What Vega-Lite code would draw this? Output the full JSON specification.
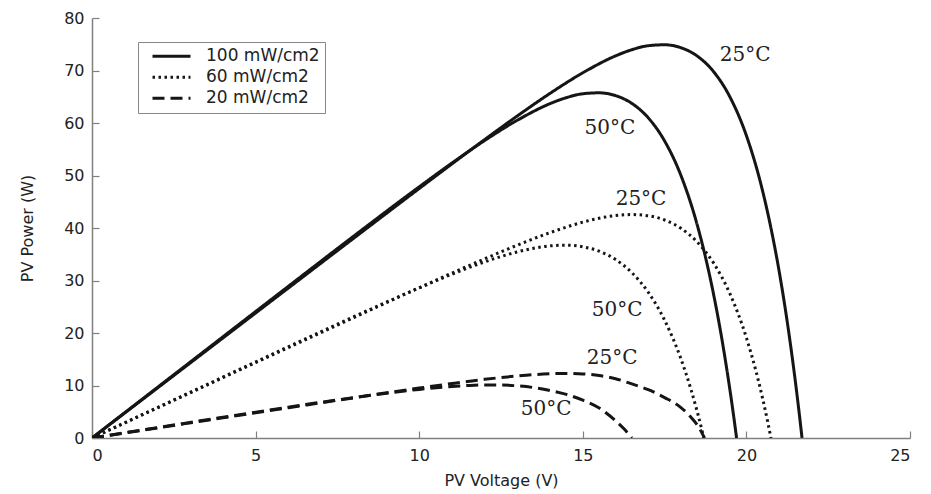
{
  "$schema": "https://vega.github.io/schema/vega-lite/v6.json",
  "autosize": {"type": "none"},
  "padding": {"left": 92, "top": 18, "right": 21, "bottom": 56},
  "width": 818,
  "height": 420,
  "background": "white",
  "config": {
    "view": {"stroke": null},
    "axis": {
      "domainColor": "#808080", "domainWidth": 1.5,
      "tickColor": "#808080", "tickWidth": 1.2, "tickSize": -7,
      "labelFont": "DejaVu Sans", "labelFontSize": 16, "labelColor": "#222222",
      "titleFont": "DejaVu Sans", "titleFontSize": 16, "titleFontWeight": "normal", "titleColor": "#222222",
      "grid": false
    }
  },
  "datasets": {
    "curves": [
      {"s":"100-25","irr":"100 mW/cm2","V":0,"P":0},{"s":"100-25","irr":"100 mW/cm2","V":2,"P":9.52},{"s":"100-25","irr":"100 mW/cm2","V":4,"P":19.04},{"s":"100-25","irr":"100 mW/cm2","V":6,"P":28.56},{"s":"100-25","irr":"100 mW/cm2","V":8,"P":38.06},{"s":"100-25","irr":"100 mW/cm2","V":10,"P":47.52},{"s":"100-25","irr":"100 mW/cm2","V":11,"P":52.21},{"s":"100-25","irr":"100 mW/cm2","V":12,"P":56.84},{"s":"100-25","irr":"100 mW/cm2","V":13,"P":61.35},{"s":"100-25","irr":"100 mW/cm2","V":14,"P":65.65},{"s":"100-25","irr":"100 mW/cm2","V":15,"P":69.56},{"s":"100-25","irr":"100 mW/cm2","V":16,"P":72.78},{"s":"100-25","irr":"100 mW/cm2","V":16.5,"P":73.96},{"s":"100-25","irr":"100 mW/cm2","V":17,"P":74.72},{"s":"100-25","irr":"100 mW/cm2","V":17.5,"P":74.9},{"s":"100-25","irr":"100 mW/cm2","V":18,"P":74.34},{"s":"100-25","irr":"100 mW/cm2","V":18.5,"P":72.74},{"s":"100-25","irr":"100 mW/cm2","V":19,"P":69.76},{"s":"100-25","irr":"100 mW/cm2","V":19.5,"P":64.92},{"s":"100-25","irr":"100 mW/cm2","V":20,"P":57.6},{"s":"100-25","irr":"100 mW/cm2","V":20.5,"P":46.94},{"s":"100-25","irr":"100 mW/cm2","V":20.75,"P":40.0},{"s":"100-25","irr":"100 mW/cm2","V":21,"P":31.79},{"s":"100-25","irr":"100 mW/cm2","V":21.15,"P":26.14},{"s":"100-25","irr":"100 mW/cm2","V":21.3,"P":19.9},{"s":"100-25","irr":"100 mW/cm2","V":21.5,"P":10.59},{"s":"100-25","irr":"100 mW/cm2","V":21.6,"P":5.47},{"s":"100-25","irr":"100 mW/cm2","V":21.7,"P":0},
      {"s":"100-50","irr":"100 mW/cm2","V":0,"P":0},{"s":"100-50","irr":"100 mW/cm2","V":2,"P":9.64},{"s":"100-50","irr":"100 mW/cm2","V":4,"P":19.27},{"s":"100-50","irr":"100 mW/cm2","V":6,"P":28.89},{"s":"100-50","irr":"100 mW/cm2","V":8,"P":38.46},{"s":"100-50","irr":"100 mW/cm2","V":10,"P":47.84},{"s":"100-50","irr":"100 mW/cm2","V":11,"P":52.37},{"s":"100-50","irr":"100 mW/cm2","V":12,"P":56.66},{"s":"100-50","irr":"100 mW/cm2","V":13,"P":60.53},{"s":"100-50","irr":"100 mW/cm2","V":14,"P":63.69},{"s":"100-50","irr":"100 mW/cm2","V":14.5,"P":64.83},{"s":"100-50","irr":"100 mW/cm2","V":15,"P":65.57},{"s":"100-50","irr":"100 mW/cm2","V":15.5,"P":65.75},{"s":"100-50","irr":"100 mW/cm2","V":16,"P":65.22},{"s":"100-50","irr":"100 mW/cm2","V":16.5,"P":63.73},{"s":"100-50","irr":"100 mW/cm2","V":17,"P":60.99},{"s":"100-50","irr":"100 mW/cm2","V":17.5,"P":56.58},{"s":"100-50","irr":"100 mW/cm2","V":18,"P":50.0},{"s":"100-50","irr":"100 mW/cm2","V":18.5,"P":40.53},{"s":"100-50","irr":"100 mW/cm2","V":18.75,"P":34.43},{"s":"100-50","irr":"100 mW/cm2","V":19,"P":27.27},{"s":"100-50","irr":"100 mW/cm2","V":19.3,"P":17.02},{"s":"100-50","irr":"100 mW/cm2","V":19.5,"P":9.03},{"s":"100-50","irr":"100 mW/cm2","V":19.6,"P":4.65},{"s":"100-50","irr":"100 mW/cm2","V":19.7,"P":0},
      {"s":"60-25","irr":"60 mW/cm2","V":0,"P":0},{"s":"60-25","irr":"60 mW/cm2","V":2,"P":5.74},{"s":"60-25","irr":"60 mW/cm2","V":4,"P":11.48},{"s":"60-25","irr":"60 mW/cm2","V":6,"P":17.21},{"s":"60-25","irr":"60 mW/cm2","V":8,"P":22.94},{"s":"60-25","irr":"60 mW/cm2","V":10,"P":28.61},{"s":"60-25","irr":"60 mW/cm2","V":11,"P":31.41},{"s":"60-25","irr":"60 mW/cm2","V":12,"P":34.13},{"s":"60-25","irr":"60 mW/cm2","V":13,"P":36.74},{"s":"60-25","irr":"60 mW/cm2","V":14,"P":39.12},{"s":"60-25","irr":"60 mW/cm2","V":15,"P":41.11},{"s":"60-25","irr":"60 mW/cm2","V":15.5,"P":41.86},{"s":"60-25","irr":"60 mW/cm2","V":16,"P":42.37},{"s":"60-25","irr":"60 mW/cm2","V":16.5,"P":42.56},{"s":"60-25","irr":"60 mW/cm2","V":17,"P":42.33},{"s":"60-25","irr":"60 mW/cm2","V":17.5,"P":41.52},{"s":"60-25","irr":"60 mW/cm2","V":18,"P":39.93},{"s":"60-25","irr":"60 mW/cm2","V":18.5,"P":37.31},{"s":"60-25","irr":"60 mW/cm2","V":19,"P":33.3},{"s":"60-25","irr":"60 mW/cm2","V":19.5,"P":27.44},{"s":"60-25","irr":"60 mW/cm2","V":20,"P":19.09},{"s":"60-25","irr":"60 mW/cm2","V":20.3,"P":12.55},{"s":"60-25","irr":"60 mW/cm2","V":20.5,"P":7.42},{"s":"60-25","irr":"60 mW/cm2","V":20.65,"P":3.11},{"s":"60-25","irr":"60 mW/cm2","V":20.75,"P":0},
      {"s":"60-50","irr":"60 mW/cm2","V":0,"P":0},{"s":"60-50","irr":"60 mW/cm2","V":2,"P":5.8},{"s":"60-50","irr":"60 mW/cm2","V":4,"P":11.6},{"s":"60-50","irr":"60 mW/cm2","V":6,"P":17.38},{"s":"60-50","irr":"60 mW/cm2","V":8,"P":23.1},{"s":"60-50","irr":"60 mW/cm2","V":10,"P":28.6},{"s":"60-50","irr":"60 mW/cm2","V":11,"P":31.2},{"s":"60-50","irr":"60 mW/cm2","V":12,"P":33.55},{"s":"60-50","irr":"60 mW/cm2","V":13,"P":35.45},{"s":"60-50","irr":"60 mW/cm2","V":13.5,"P":36.15},{"s":"60-50","irr":"60 mW/cm2","V":14,"P":36.6},{"s":"60-50","irr":"60 mW/cm2","V":14.5,"P":36.72},{"s":"60-50","irr":"60 mW/cm2","V":15,"P":36.42},{"s":"60-50","irr":"60 mW/cm2","V":15.5,"P":35.58},{"s":"60-50","irr":"60 mW/cm2","V":16,"P":34.0},{"s":"60-50","irr":"60 mW/cm2","V":16.5,"P":31.49},{"s":"60-50","irr":"60 mW/cm2","V":17,"P":27.76},{"s":"60-50","irr":"60 mW/cm2","V":17.5,"P":22.44},{"s":"60-50","irr":"60 mW/cm2","V":18,"P":15.05},{"s":"60-50","irr":"60 mW/cm2","V":18.3,"P":9.37},{"s":"60-50","irr":"60 mW/cm2","V":18.5,"P":4.96},{"s":"60-50","irr":"60 mW/cm2","V":18.7,"P":0},
      {"s":"20-25","irr":"20 mW/cm2","V":0,"P":0},{"s":"20-25","irr":"20 mW/cm2","V":2,"P":1.92},{"s":"20-25","irr":"20 mW/cm2","V":4,"P":3.85},{"s":"20-25","irr":"20 mW/cm2","V":6,"P":5.76},{"s":"20-25","irr":"20 mW/cm2","V":8,"P":7.66},{"s":"20-25","irr":"20 mW/cm2","V":10,"P":9.51},{"s":"20-25","irr":"20 mW/cm2","V":11,"P":10.37},{"s":"20-25","irr":"20 mW/cm2","V":12,"P":11.17},{"s":"20-25","irr":"20 mW/cm2","V":13,"P":11.82},{"s":"20-25","irr":"20 mW/cm2","V":13.5,"P":12.07},{"s":"20-25","irr":"20 mW/cm2","V":14,"P":12.23},{"s":"20-25","irr":"20 mW/cm2","V":14.5,"P":12.3},{"s":"20-25","irr":"20 mW/cm2","V":15,"P":12.2},{"s":"20-25","irr":"20 mW/cm2","V":15.5,"P":11.9},{"s":"20-25","irr":"20 mW/cm2","V":16,"P":11.3},{"s":"20-25","irr":"20 mW/cm2","V":16.5,"P":10.3},{"s":"20-25","irr":"20 mW/cm2","V":17,"P":9.2},{"s":"20-25","irr":"20 mW/cm2","V":17.5,"P":7.7},{"s":"20-25","irr":"20 mW/cm2","V":18,"P":5.8},{"s":"20-25","irr":"20 mW/cm2","V":18.3,"P":4.0},{"s":"20-25","irr":"20 mW/cm2","V":18.55,"P":2.0},{"s":"20-25","irr":"20 mW/cm2","V":18.72,"P":0},
      {"s":"20-50","irr":"20 mW/cm2","V":0,"P":0},{"s":"20-50","irr":"20 mW/cm2","V":2,"P":1.98},{"s":"20-50","irr":"20 mW/cm2","V":4,"P":3.94},{"s":"20-50","irr":"20 mW/cm2","V":6,"P":5.87},{"s":"20-50","irr":"20 mW/cm2","V":8,"P":7.7},{"s":"20-50","irr":"20 mW/cm2","V":9,"P":8.53},{"s":"20-50","irr":"20 mW/cm2","V":10,"P":9.26},{"s":"20-50","irr":"20 mW/cm2","V":11,"P":9.82},{"s":"20-50","irr":"20 mW/cm2","V":11.5,"P":10.0},{"s":"20-50","irr":"20 mW/cm2","V":12,"P":10.1},{"s":"20-50","irr":"20 mW/cm2","V":12.5,"P":10.09},{"s":"20-50","irr":"20 mW/cm2","V":13,"P":9.93},{"s":"20-50","irr":"20 mW/cm2","V":13.5,"P":9.6},{"s":"20-50","irr":"20 mW/cm2","V":14,"P":9.05},{"s":"20-50","irr":"20 mW/cm2","V":14.5,"P":8.3},{"s":"20-50","irr":"20 mW/cm2","V":15,"P":7.2},{"s":"20-50","irr":"20 mW/cm2","V":15.5,"P":5.7},{"s":"20-50","irr":"20 mW/cm2","V":16,"P":3.3},{"s":"20-50","irr":"20 mW/cm2","V":16.25,"P":1.8},{"s":"20-50","irr":"20 mW/cm2","V":16.5,"P":0}
    ],
    "labels": [
      {"t":"25°C","V":19.96,"P":73.0},
      {"t":"50°C","V":15.83,"P":59.1},
      {"t":"25°C","V":16.78,"P":45.5},
      {"t":"50°C","V":16.05,"P":24.3},
      {"t":"25°C","V":15.9,"P":15.2},
      {"t":"50°C","V":13.88,"P":5.5}
    ]
  },
  "layer": [
    {
      "data": {"name": "curves"},
      "mark": {"type": "line", "strokeWidth": 3, "color": "#151515", "strokeCap": "butt", "interpolate": "monotone", "clip": true},
      "encoding": {
        "x": {"field": "V", "type": "quantitative", "scale": {"domain": [0, 25], "nice": false},
              "axis": {"values": [0,5,10,15,20,25], "title": "PV Voltage (V)", "labelPadding": 16, "titlePadding": 9}},
        "y": {"field": "P", "type": "quantitative", "scale": {"domain": [0, 80], "nice": false},
              "axis": {"values": [0,10,20,30,40,50,60,70,80], "title": "PV Power (W)", "labelPadding": 15, "titlePadding": 28}},
        "detail": {"field": "s"},
        "strokeDash": {
          "field": "irr", "type": "nominal",
          "scale": {"domain": ["100 mW/cm2", "60 mW/cm2", "20 mW/cm2"], "range": [[1, 0], [2.5, 3.5], [12, 6]]},
          "legend": {
            "title": null, "orient": "none", "legendX": 46, "legendY": 24,
            "fillColor": "white", "strokeColor": "#888888", "padding": 5,
            "symbolType": "stroke", "symbolSize": 1444, "symbolStrokeWidth": 3, "symbolStrokeColor": "#151515",
            "symbolOffset": 8, "clipHeight": 18.5,
            "labelFont": "DejaVu Sans", "labelFontSize": 17, "labelColor": "#222222", "labelOffset": 14,
            "rowPadding": 2
          }
        }
      }
    },
    {
      "data": {"name": "labels"},
      "mark": {"type": "text", "font": "DejaVu Serif", "fontSize": 20, "color": "#222222", "align": "center", "baseline": "middle"},
      "encoding": {
        "x": {"field": "V", "type": "quantitative"},
        "y": {"field": "P", "type": "quantitative"},
        "text": {"field": "t"}
      }
    }
  ]
}
